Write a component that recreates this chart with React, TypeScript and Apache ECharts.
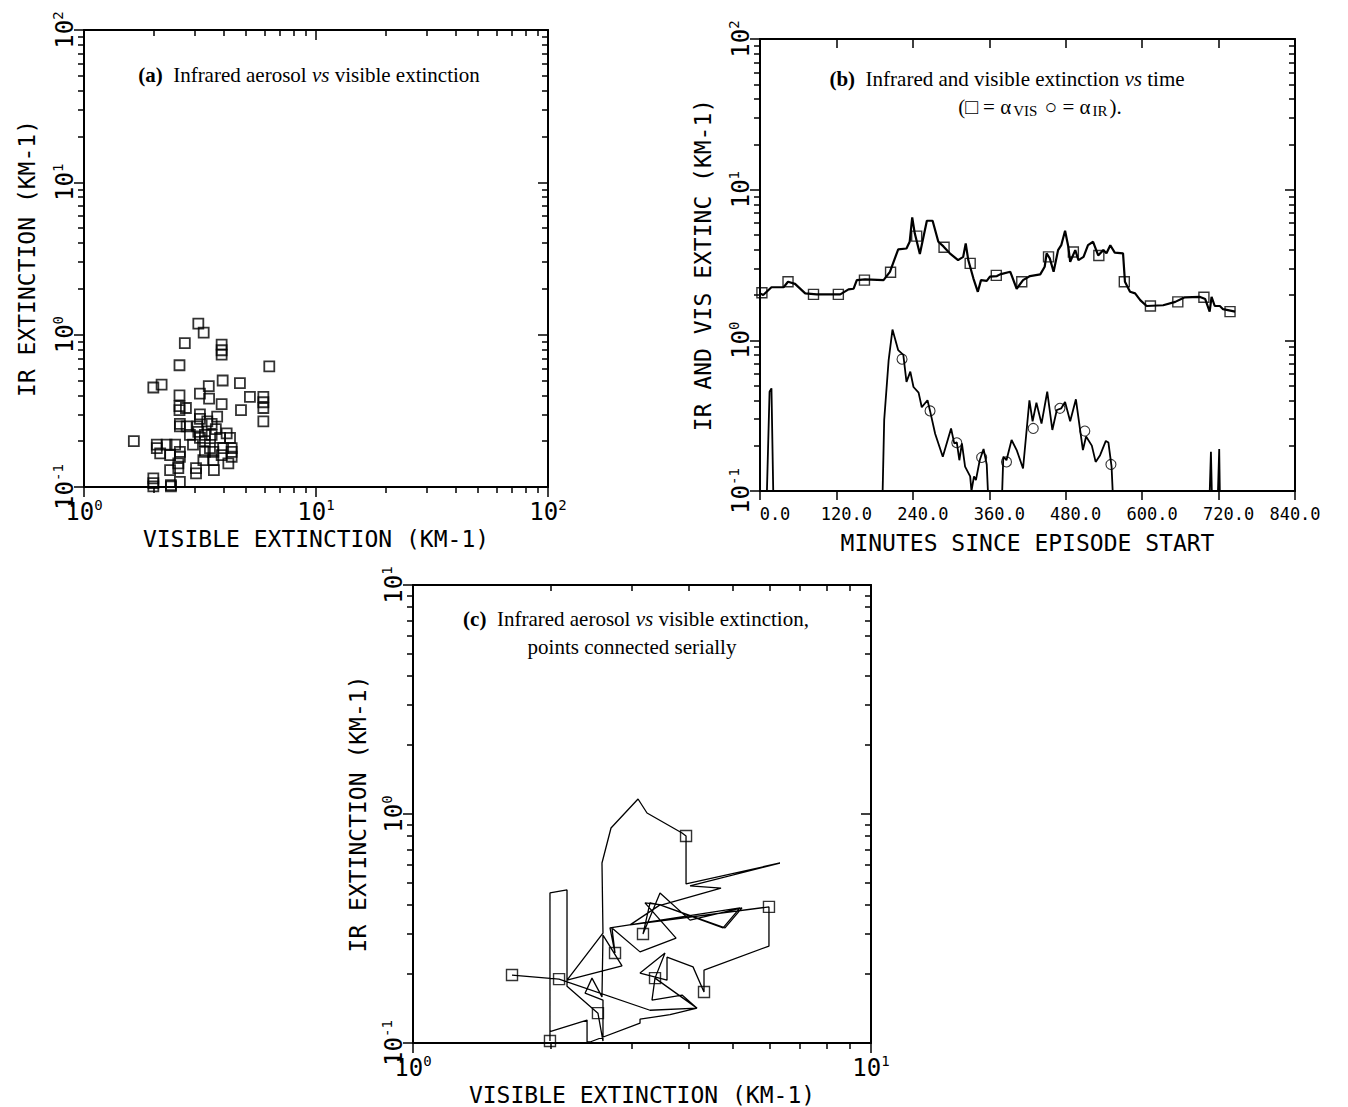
import React, { useEffect, useRef } from 'react';
import * as echarts from 'echarts';

// ---------- Panel (a): IR vs visible extinction scatter ----------
const scatterVisA: number[] = [
  3.11, 3.28, 2.72, 3.92, 3.92, 3.92, 2.58, 6.29, 3.96, 4.70, 1.99, 2.16, 2.58, 3.16, 3.45, 5.19,
  5.93, 5.93, 5.93, 5.93, 3.46, 3.92, 4.75, 2.58, 2.75, 2.58, 3.16, 3.16, 3.75, 2.59, 2.59, 2.77,
  3.08, 3.55, 2.86, 4.12, 3.32, 3.55, 3.86, 4.26, 4.33, 4.33, 4.33, 1.64, 2.06, 2.06, 2.13, 2.27,
  2.47, 2.35, 2.59, 2.59, 2.55, 3.32, 3.49, 3.32, 3.61, 3.98, 3.27, 3.61, 3.92, 4.19, 2.35, 2.55,
  3.04, 3.04, 3.63, 1.99, 1.99, 1.99, 2.37, 2.37, 2.59, 3.16, 3.11, 3.40, 3.70, 2.95,
];
const scatterIrA: number[] = [
  1.18, 1.03, 0.88, 0.86, 0.79, 0.74, 0.63, 0.62, 0.50, 0.48, 0.45, 0.47, 0.40, 0.41, 0.46, 0.39,
  0.39, 0.36, 0.33, 0.27, 0.38, 0.35, 0.32, 0.34, 0.33, 0.32, 0.30, 0.28, 0.29, 0.26, 0.25, 0.25,
  0.25, 0.26, 0.22, 0.225, 0.22, 0.22, 0.21, 0.21, 0.18, 0.17, 0.158, 0.20, 0.19, 0.18, 0.166, 0.19,
  0.19, 0.162, 0.17, 0.158, 0.143, 0.20, 0.18, 0.17, 0.17, 0.18, 0.15, 0.15, 0.162, 0.143, 0.129, 0.133,
  0.133, 0.123, 0.129, 0.114, 0.106, 0.101, 0.103, 0.101, 0.108, 0.21, 0.23, 0.27, 0.24, 0.19,
];

// ---------- Panel (b): time series ----------
const visMinutes: number[] = [
  0, 5, 18, 37, 44, 55, 71, 89, 126, 139, 147, 152, 165, 194, 204, 217, 230, 235, 239, 243, 251,
  262, 271, 280, 288, 298, 311, 319, 323, 327, 335, 342, 347, 356, 361, 372, 377, 393, 403, 413,
  424, 440, 447, 450, 455, 461, 468, 473, 479, 484, 487, 495, 500, 508, 515, 523, 531, 539, 544,
  550, 557, 570, 573, 581, 589, 597, 607, 633, 652, 667, 691, 699, 706, 709, 714, 722, 727, 746,
];
const visExt: number[] = [
  2.05, 2.0, 2.25, 2.25, 2.45, 2.37, 2.05, 2.02, 2.02, 2.18, 2.2, 2.51, 2.54, 2.51, 2.85, 4.02, 4.07,
  4.51, 6.55, 5.13, 3.74, 6.22, 6.22, 4.51, 4.2, 3.78, 3.41, 3.58, 4.4, 3.41, 2.58, 2.10, 2.51, 2.48,
  2.65, 2.67, 2.74, 2.85, 2.2, 2.51, 2.67, 2.74, 3.08, 3.78, 3.5, 2.85, 3.97, 4.28, 5.34, 4.2, 3.32,
  3.97, 3.41, 3.58, 4.28, 4.51, 3.66, 3.97, 3.78, 4.28, 3.82, 3.78, 2.45, 2.10, 2.05, 1.85, 1.69,
  1.71, 1.8, 1.93, 1.94, 1.88, 1.55, 1.94, 1.69, 1.69, 1.61, 1.55,
];
const irMinutes: number[] = [
  0, 9, 15, 18, 22, 191, 195, 202, 208, 217, 225, 230, 236, 241, 249, 254, 263, 267, 275, 287, 300,
  305, 309, 313, 317, 322, 330, 332, 336, 339, 345, 351, 356, 361, 378, 382, 387, 395, 403, 413, 423,
  428, 434, 442, 451, 459, 466, 473, 479, 487, 496, 507, 512, 521, 527, 534, 543, 547, 552, 557, 704,
  708, 711, 717, 721, 723, 746,
];
const irExt: number[] = [
  0.05, 0.05, 0.456, 0.48, 0.05, 0.05, 0.296, 0.74, 1.18, 0.86, 0.80, 0.53, 0.62, 0.49, 0.45, 0.36,
  0.40, 0.34, 0.24, 0.169, 0.26, 0.207, 0.21, 0.16, 0.207, 0.145, 0.125, 0.1, 0.125, 0.118, 0.16,
  0.19, 0.15, 0.05, 0.05, 0.169, 0.16, 0.218, 0.187, 0.141, 0.40, 0.29, 0.385, 0.28, 0.456, 0.254,
  0.345, 0.354, 0.39, 0.29, 0.406, 0.187, 0.23, 0.2, 0.156, 0.173, 0.215, 0.21, 0.145, 0.05, 0.05,
  0.182, 0.05, 0.05, 0.19, 0.05, 0.05,
];
const visMarkMinutes: number[] = [3, 44, 84, 123, 164, 205, 246, 289, 330, 371, 411, 453, 492, 532, 572, 613, 656, 697, 738];
const visMarkExt: number[] = [2.07, 2.45, 2.02, 2.02, 2.51, 2.83, 4.92, 4.15, 3.24, 2.7, 2.45, 3.58, 3.86, 3.66, 2.45, 1.69, 1.8, 1.93, 1.55];
const irMarkMinutes: number[] = [223, 267, 309, 348, 387, 429, 471, 510, 551];
const irMarkExt: number[] = [0.75, 0.34, 0.209, 0.167, 0.156, 0.26, 0.354, 0.25, 0.15];
const minuteTicks: number[] = [0, 120, 240, 360, 480, 600, 720, 840];

// ---------- Panel (c): serial path ----------
const pathVisC: number[] = [
  1.645, 2.084, 3.292, 4.170, 3.641, 3.131, 3.131, 2.435, 2.399, 2.399, 1.991, 1.991, 1.991, 2.169,
  2.169, 2.534, 2.599, 2.599, 2.375, 2.459, 2.586, 2.599, 2.860, 2.169, 2.599, 2.586, 2.706, 3.100,
  3.243, 3.868, 3.946, 3.946, 6.327, 4.026, 4.705, 3.497, 3.210, 3.753, 3.131, 2.719, 2.761, 2.692,
  5.176, 4.753, 3.462, 3.292, 3.178, 3.462, 4.026, 5.228, 4.800, 3.462, 2.978, 5.987, 5.987, 4.319,
  4.319, 4.087, 3.586, 3.586, 3.131, 3.550, 3.376, 4.170, 3.868, 3.325, 3.376,
];
const pathIrC: number[] = [
  0.198, 0.190, 0.139, 0.142, 0.133, 0.127, 0.122, 0.101, 0.101, 0.126, 0.112, 0.102, 0.452, 0.466,
  0.177, 0.135, 0.102, 0.154, 0.165, 0.192, 0.159, 0.296, 0.217, 0.188, 0.302, 0.611, 0.869, 1.163,
  1.01, 0.826, 0.802, 0.495, 0.611, 0.485, 0.475, 0.401, 0.409, 0.287, 0.250, 0.318, 0.247, 0.318,
  0.389, 0.318, 0.401, 0.409, 0.299, 0.452, 0.344, 0.389, 0.318, 0.401, 0.328, 0.393, 0.265, 0.208,
  0.167, 0.215, 0.237, 0.188, 0.202, 0.247, 0.192, 0.142, 0.162, 0.154, 0.192,
];
const squareVisC: number[] = [1.645, 2.084, 1.991, 2.534, 3.946, 2.761, 3.178, 5.987, 4.319, 3.376];
const squareIrC: number[] = [0.198, 0.190, 0.102, 0.135, 0.802, 0.247, 0.299, 0.393, 0.167, 0.192];

const MONO = "'DejaVu Sans Mono', monospace";
const SERIF = "'Liberation Serif', 'DejaVu Serif', serif";

const zip = (a: number[], b: number[]) => a.map((v, i) => [v, b[i]]);

const logLabel = (v: number) => {
  const e = Math.round(Math.log10(v));
  return `{b|10}{s|${e}}`;
};
const labelRich = {
  b: { fontSize: 24, fontFamily: MONO, color: '#000', lineHeight: 26, verticalAlign: 'bottom' },
  s: { fontSize: 14, fontFamily: MONO, color: '#000', lineHeight: 14, verticalAlign: 'top' },
};
const axisLine = { show: true, onZero: false, lineStyle: { color: '#000', width: 2 } };
const tickStyle = { color: '#000', width: 1.5 };
const nameStyle = { fontFamily: MONO, fontSize: 23, color: '#000' };

function logAxis(gridIndex: number, min: number, max: number, position: string, main: boolean, isY: boolean, name = '', nameGap = 40) {
  return {
    type: 'log',
    logBase: 10,
    gridIndex,
    min,
    max,
    position,
    axisLine,
    axisTick: { show: true, inside: !main, length: 10, lineStyle: tickStyle },
    minorTick: { show: true, splitNumber: 9, length: 6, lineStyle: tickStyle },
    splitLine: { show: false },
    minorSplitLine: { show: false },
    axisLabel: main
      ? { show: true, formatter: logLabel, rich: labelRich, rotate: isY ? 90 : 0, margin: isY ? 7 : 11, showMinLabel: true, showMaxLabel: true }
      : { show: false },
    name: main ? name : '',
    nameLocation: 'middle',
    nameGap,
    nameTextStyle: nameStyle,
  };
}

const minuteLabel = (v: number) => {
  const key = v === minuteTicks[0] ? 'z' : v === minuteTicks[minuteTicks.length - 1] ? 'e' : 'n';
  return `{${key}|${v.toFixed(1)}}`;
};
const minuteRich = {
  z: { fontFamily: MONO, fontSize: 17, color: '#000', padding: [0, 0, 0, 30] },
  n: { fontFamily: MONO, fontSize: 17, color: '#000', padding: [0, 0, 0, 20] },
  e: { fontFamily: MONO, fontSize: 17, color: '#000' },
};

function timeAxis(gridIndex: number, position: string, main: boolean, name = '', nameGap = 40) {
  return {
    type: 'value',
    gridIndex,
    min: minuteTicks[0],
    max: minuteTicks[minuteTicks.length - 1],
    interval: minuteTicks[1] - minuteTicks[0],
    position,
    axisLine,
    axisTick: { show: true, inside: !main, length: 9, lineStyle: tickStyle },
    splitLine: { show: false },
    axisLabel: main
      ? { show: true, formatter: minuteLabel, rich: minuteRich, margin: 14, showMinLabel: true, showMaxLabel: true }
      : { show: false },
    name: main ? name : '',
    nameLocation: 'middle',
    nameGap,
    nameTextStyle: nameStyle,
  };
}

const hollow = { color: 'rgba(0,0,0,0)', borderColor: '#000', borderWidth: 1.8 };
const TITLE_SIZE = 21;
const titleRich = {
  b: { fontWeight: 'bold', fontFamily: SERIF, fontSize: TITLE_SIZE },
  i: { fontStyle: 'italic', fontFamily: SERIF, fontSize: TITLE_SIZE },
};
const titleStyle = (text: string) => ({
  text,
  fontFamily: SERIF, fontSize: TITLE_SIZE, fill: '#000', align: 'center', verticalAlign: 'middle',
  textAlign: 'center', textVerticalAlign: 'middle', rich: titleRich,
});

const option: any = {
  animation: false,
  backgroundColor: '#fff',
  grid: [
    { left: 84, top: 30, width: 464, height: 457 },
    { left: 760, top: 39, width: 535, height: 452 },
    { left: 413, top: 585, width: 458, height: 458 },
  ],
  xAxis: [
    logAxis(0, 1, 100, 'bottom', true, false, 'VISIBLE EXTINCTION (KM-1)', 40),
    logAxis(0, 1, 100, 'top', false, false),
    timeAxis(1, 'bottom', true, 'MINUTES SINCE EPISODE START', 40),
    timeAxis(1, 'top', false),
    logAxis(2, 1, 10, 'bottom', true, false, 'VISIBLE EXTINCTION (KM-1)', 40),
    logAxis(2, 1, 10, 'top', false, false),
  ],
  yAxis: [
    logAxis(0, 0.1, 100, 'left', true, true, 'IR EXTINCTION (KM-1)', 46),
    logAxis(0, 0.1, 100, 'right', false, true),
    logAxis(1, 0.1, 100, 'left', true, true, 'IR AND VIS EXTINC (KM-1)', 46),
    logAxis(1, 0.1, 100, 'right', false, true),
    logAxis(2, 0.1, 10, 'left', true, true, 'IR EXTINCTION (KM-1)', 44),
    logAxis(2, 0.1, 10, 'right', false, true),
  ],
  series: [
    {
      type: 'scatter', xAxisIndex: 0, yAxisIndex: 0, clip: false,
      symbol: 'rect', symbolSize: 10, itemStyle: hollow,
      data: zip(scatterVisA, scatterIrA),
    },
    {
      type: 'line', xAxisIndex: 2, yAxisIndex: 2, showSymbol: false, clip: true,
      lineStyle: { color: '#000', width: 2.2 }, data: zip(visMinutes, visExt),
    },
    {
      type: 'line', xAxisIndex: 2, yAxisIndex: 2, showSymbol: false, clip: true,
      lineStyle: { color: '#000', width: 1.8 }, data: zip(irMinutes, irExt),
    },
    {
      type: 'scatter', xAxisIndex: 2, yAxisIndex: 2, clip: false,
      symbol: 'rect', symbolSize: 10, itemStyle: { ...hollow, borderWidth: 1.4 },
      data: zip(visMarkMinutes, visMarkExt),
    },
    {
      type: 'scatter', xAxisIndex: 2, yAxisIndex: 2, clip: false,
      symbol: 'circle', symbolSize: 10, itemStyle: { ...hollow, borderWidth: 1.1 },
      data: zip(irMarkMinutes, irMarkExt),
    },
    {
      type: 'line', xAxisIndex: 4, yAxisIndex: 4, showSymbol: false, clip: true,
      lineStyle: { color: '#000', width: 1.3 }, data: zip(pathVisC, pathIrC),
    },
    {
      type: 'scatter', xAxisIndex: 4, yAxisIndex: 4, clip: false,
      symbol: 'rect', symbolSize: 11, itemStyle: { ...hollow, borderWidth: 1.4 },
      data: zip(squareVisC, squareIrC),
    },
  ],
  graphic: [
    { type: 'text', x: 309, y: 75, style: titleStyle('{b|(a)}  Infrared aerosol {i|vs} visible extinction') },
    { type: 'text', x: 1007, y: 79, style: titleStyle('{b|(b)}  Infrared and visible extinction {i|vs} time') },
    {
      type: 'text', x: 1040, y: 107,
      style: {
        text: '{n|(\u25A1 = \u03B1}{sub|VIS}{n| \u25CB = \u03B1}{sub|IR}{n|).}',
        fontFamily: SERIF, fontSize: TITLE_SIZE, fill: '#000', align: 'center', verticalAlign: 'middle',
        textAlign: 'center', textVerticalAlign: 'middle',
        rich: {
          n: { fontFamily: SERIF, fontSize: TITLE_SIZE, lineHeight: 22, verticalAlign: 'top' },
          sub: { fontFamily: SERIF, fontSize: 15, lineHeight: 15, verticalAlign: 'bottom', padding: [9, 2, 0, 2] },
        },
      },
    },
    { type: 'text', x: 636, y: 619, style: titleStyle('{b|(c)}  Infrared aerosol {i|vs} visible extinction,') },
    { type: 'text', x: 632, y: 647, style: titleStyle('points connected serially') },
  ],
};

export default function App() {
  const ref = useRef<HTMLDivElement>(null);
  useEffect(() => {
    const chart = echarts.init(ref.current!, null, { renderer: 'svg' });
    chart.setOption(option);
    return () => chart.dispose();
  }, []);
  return (
    <div
      ref={ref}
      style={{ position: 'fixed', left: 0, top: 0, width: 1348, height: 1107, background: '#fff' }}
    />
  );
}
